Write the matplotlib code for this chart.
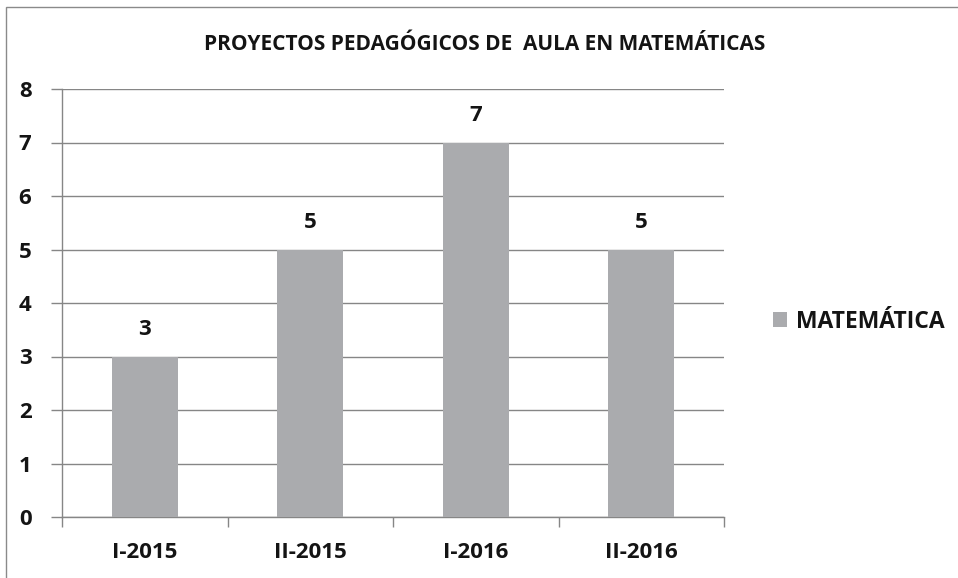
import matplotlib
matplotlib.use("Agg")
import matplotlib.pyplot as plt
from matplotlib.patches import Rectangle

categories = ["I-2015", "II-2015", "I-2016", "II-2016"]
values = [3, 5, 7, 5]
series_name = "MATEMÁTICA"
title = "PROYECTOS PEDAGÓGICOS DE  AULA EN MATEMÁTICAS"
yticks = [0, 1, 2, 3, 4, 5, 6, 7, 8]

plt.rcParams['font.family'] = ['Open Sans', 'DejaVu Sans']

fig = plt.figure(figsize=(9.58, 5.78), dpi=100)
ax = fig.add_axes([62/958, 1-517/578, (724-62)/958, (517-89)/578])

bar_color = "#AAABAE"
text_color = "#141414"
x = list(range(len(categories)))
bars = ax.bar(x, values, width=0.4, color=bar_color, label=series_name, zorder=3)

ax.set_xlim(-0.5, len(categories)-0.5)
ax.set_ylim(0, 8)
ax.set_yticks(yticks)
ax.set_yticklabels([str(t) for t in yticks], fontsize=16, fontweight='bold', color=text_color)
ax.set_xticks(x)
ax.set_xticklabels(categories, fontsize=16, fontweight='bold', color=text_color)
ax.set_xticks([i - 0.5 for i in range(len(categories)+1)], minor=True)
ax.tick_params(axis='x', which='major', length=0, pad=18)
ax.tick_params(axis='x', which='minor', length=7, color='#868686', width=1)
ax.tick_params(axis='y', length=8, color='#868686', width=1, pad=14)

ax.grid(axis='y', color='#868686', linewidth=1, zorder=0)
for s in ['top', 'right']:
    ax.spines[s].set_visible(False)
for s in ['left', 'bottom']:
    ax.spines[s].set_color('#868686')
    ax.spines[s].set_linewidth(1)

for xi, v in zip(x, values):
    ax.annotate(str(v), (xi, v), xytext=(0, 12), textcoords='offset points',
                ha='center', va='bottom', fontsize=16, fontweight='bold', color=text_color)

fig.text((205+765)/2/958, 1-44/578, title, ha='center', va='center',
         fontsize=15, fontweight='bold', color=text_color)

leg = ax.legend(loc='center left', bbox_to_anchor=(1.06, 0.456), frameon=False,
                prop={'size': 16.5, 'weight': 'bold'}, handlelength=0.6, handleheight=0.6,
                handletextpad=0.4, borderaxespad=0)
for t in leg.get_texts():
    t.set_color(text_color)

fig.patches.append(Rectangle((6/958, -0.05), 1.0, 1 - 7/578 + 0.05, transform=fig.transFigure,
                             fill=False, edgecolor='#8a8a8a', linewidth=1, figure=fig))

fig.savefig("out.png", dpi=100)
